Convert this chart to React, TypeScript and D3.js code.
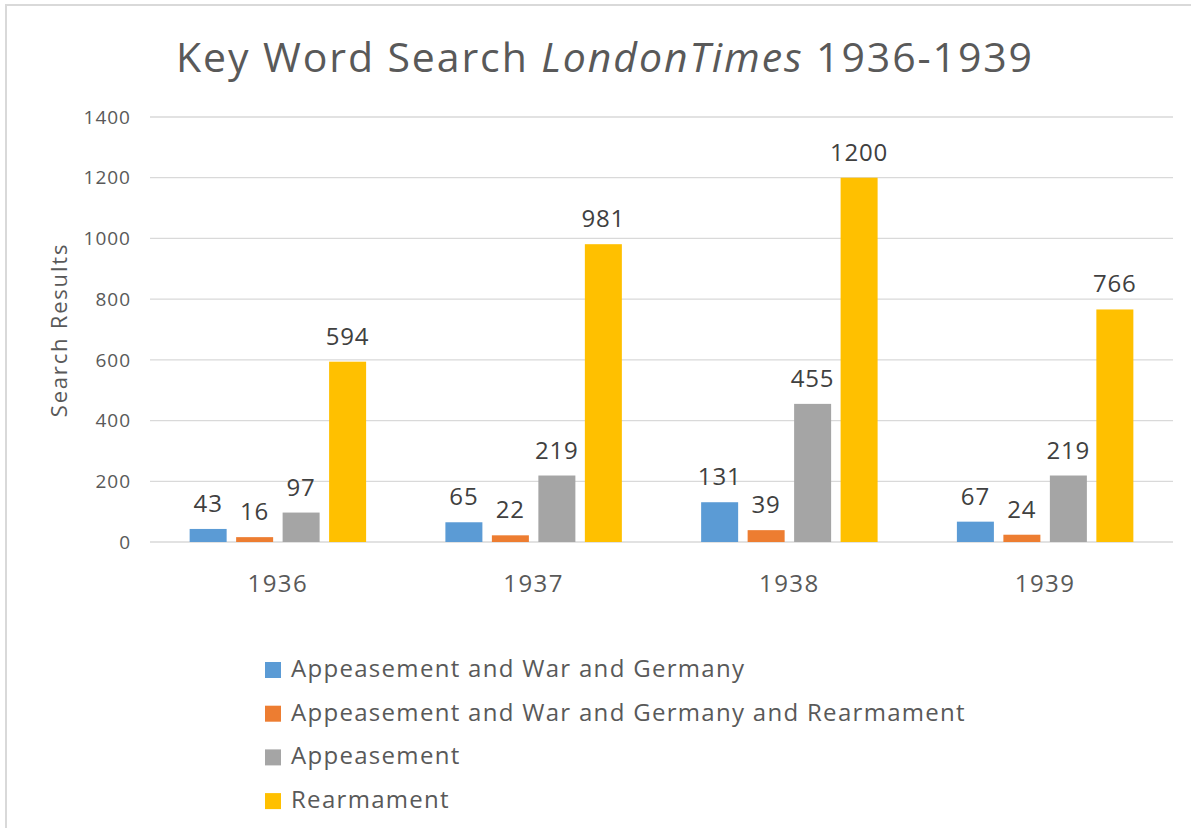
import * as d3 from 'd3';

const YEARS = ['1936', '1937', '1938', '1939'];
const SERIES = [
    'Appeasement and War and Germany',
    'Appeasement and War and Germany and Rearmament',
    'Appeasement',
    'Rearmament',
];
const WAR_GERMANY = [43, 65, 131, 67];
const WAR_GERMANY_REARM = [16, 22, 39, 24];
const APPEASEMENT = [97, 219, 455, 219];
const REARMAMENT = [594, 981, 1200, 766];
const Y_TICKS = [0, 200, 400, 600, 800, 1000, 1200, 1400];

const COLORS = ['#5b9bd5', '#ed7d31', '#a5a5a5', '#ffc000'];
const FONT = '"Open Sans", "Noto Sans", sans-serif';

const W = 1191;
const H = 828;
const plot = { left: 150, right: 1173, top: 117, bottom: 542 };

export default function App() {
    const values = [WAR_GERMANY, WAR_GERMANY_REARM, APPEASEMENT, REARMAMENT];

    const x0 = d3.scaleBand<string>().domain(YEARS)
        .range([plot.left, plot.right]).paddingInner(0.31).paddingOuter(0.155);
    const x1 = d3.scaleBand<number>().domain(d3.range(SERIES.length))
        .range([0, x0.bandwidth()]).paddingInner(0.204);
    const y = d3.scaleLinear().domain([0, 1400]).range([plot.bottom, plot.top]);

    return (
        <svg width={W} height={H} style={{ position: 'absolute', left: 0, top: 0, background: '#fff' }}
            fontFamily={FONT}>
            <rect x={6} y={5} width={W + 10} height={H + 10} fill="#fff" stroke="#d9d9d9" strokeWidth={2} />

            <text x={605} y={72} textAnchor="middle" fontSize={41} letterSpacing={1.9} fill="#595959">
                Key Word Search <tspan fontStyle="italic">LondonTimes</tspan> 1936-1939
            </text>

            {Y_TICKS.map(t => (
                <g key={t}>
                    <line x1={plot.left} x2={plot.right} y1={y(t)} y2={y(t)} stroke="#d9d9d9" strokeWidth={1.3} />
                    <text x={131} y={y(t)} dy="0.35em" textAnchor="end" fontSize={19} letterSpacing={1}
                        fill="#595959">{t}</text>
                </g>
            ))}

            <text transform="translate(67,330) rotate(-90)" textAnchor="middle" fontSize={22}
                letterSpacing={1.8} fill="#595959">
                Search Results
            </text>

            {YEARS.map((yr, i) => (
                <g key={yr} transform={`translate(${x0(yr)},0)`}>
                    {values.map((vals, s) => (
                        <g key={s}>
                            <rect x={x1(s)} y={y(vals[i])} width={x1.bandwidth()}
                                height={y(0) - y(vals[i])} fill={COLORS[s]} />
                            <text x={(x1(s) ?? 0) + x1.bandwidth() / 2} y={y(vals[i]) - 17}
                                textAnchor="middle" fontSize={24} letterSpacing={0.8} fill="#404040">{vals[i]}</text>
                        </g>
                    ))}
                    <text x={x0.bandwidth() / 2} y={592} textAnchor="middle" fontSize={24} letterSpacing={1.5}
                        fill="#595959">{yr}</text>
                </g>
            ))}

            {SERIES.map((name, s) => (
                <g key={name} transform={`translate(265,${662 + s * 43.7})`}>
                    <rect width={16} height={16} fill={COLORS[s]} />
                    <text x={26} y={15} fontSize={24} letterSpacing={1.3} fill="#595959">{name}</text>
                </g>
            ))}
        </svg>
    );
}
